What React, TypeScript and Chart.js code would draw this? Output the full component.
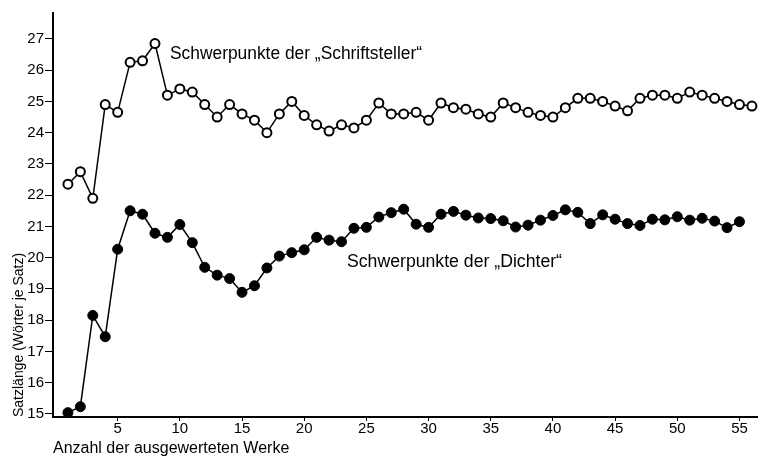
import React, { useEffect, useRef } from "react";
import { Chart, registerables } from "chart.js";

Chart.register(...registerables);

// Number of evaluated works (x positions)
const worksSchriftsteller: number[] = Array.from({ length: 56 }, (_, i) => i + 1);
const worksDichter: number[] = Array.from({ length: 55 }, (_, i) => i + 1);

// Mean sentence length ("Schwerpunkte der Schriftsteller")
const schriftsteller: number[] = [
  22.35, 22.75, 21.9, 24.9, 24.65, 26.25, 26.3, 26.85, 25.2, 25.4,
  25.3, 24.9, 24.5, 24.9, 24.6, 24.4, 24.0, 24.6, 25.0, 24.55,
  24.25, 24.05, 24.25, 24.15, 24.4, 24.95, 24.6, 24.6, 24.65, 24.4,
  24.95, 24.8, 24.75, 24.6, 24.5, 24.95, 24.8, 24.65, 24.55, 24.5,
  24.8, 25.1, 25.1, 25.0, 24.85, 24.7, 25.1, 25.2, 25.2, 25.1,
  25.3, 25.2, 25.1, 25.0, 24.9, 24.85,
];

// Mean sentence length ("Schwerpunkte der Dichter")
const dichter: number[] = [
  15.04, 15.23, 18.15, 17.47, 20.27, 21.5, 21.39, 20.78, 20.65, 21.06,
  20.48, 19.69, 19.44, 19.33, 18.89, 19.1, 19.67, 20.05, 20.16, 20.25,
  20.65, 20.56, 20.51, 20.94, 20.97, 21.3, 21.44, 21.55, 21.07, 20.97,
  21.39, 21.48, 21.36, 21.27, 21.25, 21.18, 20.98, 21.04, 21.2, 21.35,
  21.53, 21.45, 21.09, 21.37, 21.23, 21.09, 21.03, 21.23, 21.21, 21.31,
  21.2, 21.26, 21.17, 20.96, 21.15,
];

const xTicks: number[] = [5, 10, 15, 20, 25, 30, 35, 40, 45, 50, 55];
const yTicks: number[] = [15, 16, 17, 18, 19, 20, 21, 22, 23, 24, 25, 26, 27];

const labelSchriftsteller = "Schwerpunkte der \u201ESchriftsteller\u201C";
const labelDichter = "Schwerpunkte der \u201EDichter\u201C";
const xTitle = "Anzahl der ausgewerteten Werke";
const yTitle = "Satzl\u00E4nge (W\u00F6rter je Satz)";

const FONT = "'Liberation Sans', Arial, sans-serif";

export default function App() {
  const ref = useRef<HTMLCanvasElement | null>(null);

  useEffect(() => {
    document.body.style.margin = "0";
    const canvas = ref.current;
    if (!canvas) return;

    const annotations = {
      id: "annotations",
      afterDraw(chart: any) {
        const ctx = chart.ctx;
        ctx.save();
        ctx.fillStyle = "#000";
        ctx.font = `18px ${FONT}`;
        ctx.textBaseline = "alphabetic";
        ctx.textAlign = "left";
        ctx.fillText(labelSchriftsteller, 170, 59, 252);
        ctx.fillText(labelDichter, 347, 267, 215);
        ctx.restore();
      },
    };

    const chart = new Chart(canvas, {
      type: "line",
      data: {
        datasets: [
          {
            label: "Schriftsteller",
            data: worksSchriftsteller.map((x, i) => ({ x, y: schriftsteller[i] })),
            borderColor: "#000",
            borderWidth: 1.5,
            pointRadius: 4.5,
            pointBorderWidth: 2,
            pointBackgroundColor: "#fff",
            pointBorderColor: "#000",
            tension: 0,
            clip: false as any,
          },
          {
            label: "Dichter",
            data: worksDichter.map((x, i) => ({ x, y: dichter[i] })),
            borderColor: "#000",
            borderWidth: 1.5,
            pointRadius: 5,
            pointBorderWidth: 1,
            pointBackgroundColor: "#000",
            pointBorderColor: "#000",
            tension: 0,
            clip: false as any,
          },
        ],
      },
      options: {
        responsive: false,
        animation: false,
        layout: { padding: { top: 13, right: 1, left: 0, bottom: 0 } },
        plugins: {
          legend: { display: false },
          tooltip: { enabled: false },
        },
        scales: {
          x: {
            type: "linear",
            min: -0.2,
            max: 56.45,
            afterBuildTicks: (scale: any) => {
              scale.ticks = xTicks.map((v) => ({ value: v }));
            },
            afterFit: (scale: any) => {
              scale.height = 39;
            },
            grid: {
              drawOnChartArea: false,
              drawTicks: true,
              tickLength: 4,
              color: "#000",
              tickWidth: 1,
            },
            border: { display: true, color: "#000", width: 2 },
            ticks: {
              color: "#000",
              padding: -1,
              maxRotation: 0,
              autoSkip: false,
              font: { family: FONT, size: 15 },
              callback: (v: any) => String(v),
            },
            title: {
              display: true,
              text: xTitle,
              align: "start",
              color: "#000",
              font: { family: FONT, size: 16, lineHeight: 1 },
              padding: { top: 0, bottom: -1 },
            },
          },
          y: {
            type: "linear",
            min: 14.9,
            max: 27.83,
            afterBuildTicks: (scale: any) => {
              scale.ticks = yTicks.map((v) => ({ value: v }));
            },
            afterFit: (scale: any) => {
              scale.width = 53;
            },
            grid: {
              drawOnChartArea: false,
              drawTicks: true,
              tickLength: 8,
              color: "#000",
              tickWidth: 1,
            },
            border: { display: true, color: "#000", width: 2 },
            ticks: {
              color: "#000",
              padding: 1,
              autoSkip: false,
              font: { family: FONT, size: 15 },
              callback: (v: any) => String(v),
            },
            title: {
              display: true,
              text: yTitle,
              align: "start",
              color: "#000",
              font: { family: FONT, size: 14, lineHeight: 1 },
              padding: { top: 12, bottom: 0 },
            },
          },
        },
      },
      plugins: [annotations],
    });

    return () => {
      chart.destroy();
    };
  }, []);

  return (
    <div style={{ width: 764, height: 456, background: "#fff" }}>
      <canvas ref={ref} width={764} height={456} style={{ display: "block" }} />
    </div>
  );
}
